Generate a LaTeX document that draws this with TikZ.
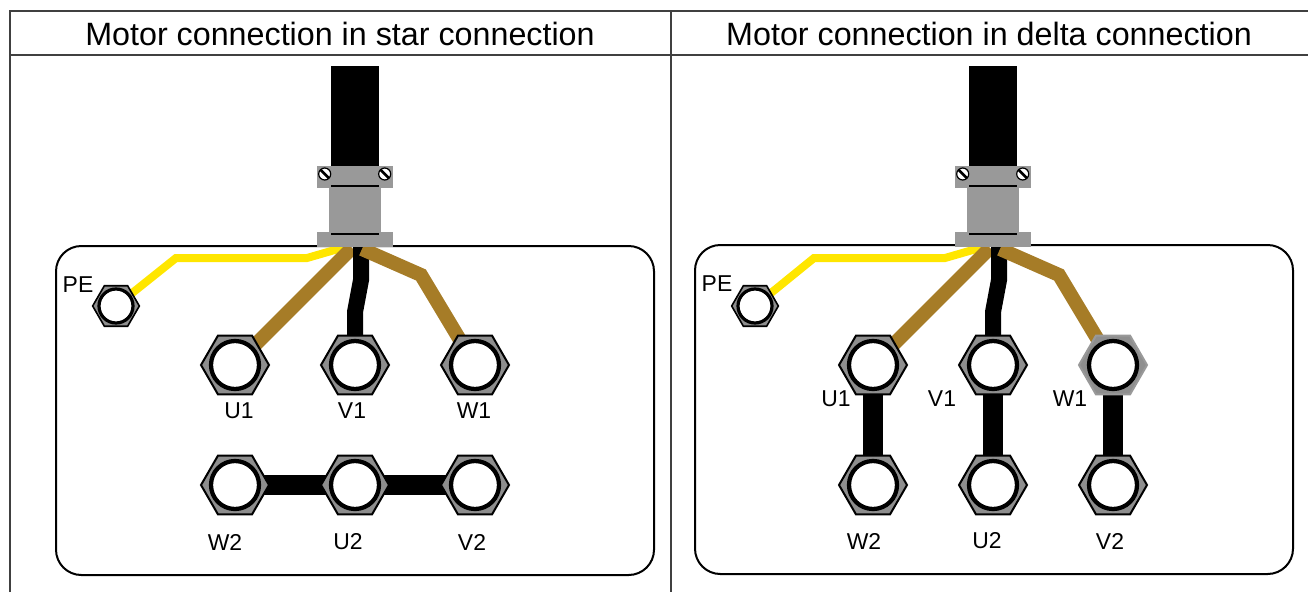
\documentclass[tikz,border=0pt]{standalone}
\usepackage{fontspec}
\setmainfont{Liberation Sans}
\usetikzlibrary{shapes.geometric,backgrounds}

\definecolor{wirebrown}{HTML}{A67C27}
\definecolor{wireyellow}{HTML}{FFE600}
\definecolor{glandgray}{HTML}{999999}
\definecolor{nutgray}{HTML}{8E8E8E}

\tikzset{
	title/.style={font=\fontsize{24.2}{28}\selectfont, inner sep=0pt},
	term/.style={font=\fontsize{17.2}{20}\selectfont, inner sep=0pt},
	nut/.style={regular polygon, regular polygon sides=6, draw=black, line width=1.5pt, fill=nutgray, minimum size=51pt, inner sep=0pt},
	smallnut/.style={nut, minimum size=35pt, line width=1.2pt},
	ring/.style={draw=black, fill=white, line width=3.2pt},
	smallring/.style={draw=black, fill=white, line width=2.4pt},
	brownwire/.style={draw=wirebrown, line width=10.5pt},
	blackwire/.style={draw=black, line width=12pt},
	yellowwire/.style={draw=wireyellow, line width=6pt},
	bridge/.style={draw=black, line width=15.5pt},
	box/.style={draw=black, line width=1.5pt, rounded corners=19pt},
	slot/.style={draw=black, line width=1pt},
	gridline/.style={draw=black!75, line width=1.1pt}
}

% one cable gland with its two screws, #1 = shift to the right
\newcommand{\gland}[1]{
	\begin{scope}[xshift=#1*0.75pt]
		\fill[black] (331,66) rectangle (379,170);
		\fill[glandgray] (329,186) rectangle (381,234);
		\fill[glandgray] (317,166) rectangle (393,188);
		\fill[glandgray] (317,232) rectangle (393,247);
		\draw[slot] (331,186) -- (379,186);
		\draw[slot] (331,234) -- (379,234);
		\draw[fill=white, line width=.9pt] (324.7,174) circle (6);
		\draw[fill=white, line width=.9pt] (384.7,174) circle (6);
		\draw[line width=2pt] (320.7,170) -- (328.7,178);
		\draw[line width=2pt] (380.7,170) -- (388.7,178);
	\end{scope}
}

\begin{document}
\begin{tikzpicture}[x=.75pt, y=-.75pt]
	\useasboundingbox (0,0) rectangle (1308,592);

	\draw[gridline] (10,592) -- (10,11) -- (1308,11);
	\draw[gridline] (10,55) -- (1308,55);
	\draw[gridline] (671,11) -- (671,592);

	\node[title] (starhead) at (340,34) {Motor connection in star connection};
	\node[title] (deltahead) at (989,34) {Motor connection in delta connection};

	% star side
	\node[smallnut] (PEa) at (116,306) {};
	\node[nut] (U1a) at (235,365) {};
	\node[nut] (V1a) at (355,365) {};
	\node[nut] (W1a) at (475,365) {};
	\node[nut] (W2a) at (235,485) {};
	\node[nut] (U2a) at (355,485) {};
	\node[nut] (V2a) at (475,485) {};

	% delta side
	\node[smallnut] (PEb) at (755,306) {};
	\node[nut] (U1b) at (873,365) {};
	\node[nut] (V1b) at (993,365) {};
	\node[nut, draw=glandgray] (W1b) at (1113,365) {};
	\node[nut] (W2b) at (873,485) {};
	\node[nut] (U2b) at (993,485) {};
	\node[nut] (V2b) at (1113,485) {};

	\foreach \n in {U1a,V1a,W1a,W2a,U2a,V2a,U1b,V1b,W1b,W2b,U2b,V2b}
		\draw[ring] (\n.center) circle (24);
	\draw[smallring] (PEa.center) circle (17);
	\draw[smallring] (PEb.center) circle (17);

	\coordinate (ya) at (345,247);
	\coordinate (ua) at (352,248);
	\coordinate (va) at (361,240);
	\coordinate (wa) at (362,249);
	\coordinate (yb) at (983,247);
	\coordinate (ub) at (990,248);
	\coordinate (vb) at (999,240);
	\coordinate (wb) at (1000,249);

	\begin{scope}[on background layer]
		\draw[box] (56,246) rectangle (654,575);
		\draw[box] (695,245) rectangle (1293,574);

		\draw[yellowwire] (PEa.center) -- (176,258) -- (307,258) -- (ya);
		\draw[brownwire] (U1a.center) -- (ua);
		\draw[blackwire] (va) -- (361,280) -- (355,312) -- (V1a.center);
		\draw[brownwire] (wa) -- (421,275) -- (W1a.center);
		\draw[bridge] (W2a.center) -- (U2a.center) -- (V2a.center);

		\draw[yellowwire] (PEb.center) -- (814,258) -- (945,258) -- (yb);
		\draw[brownwire] (U1b.center) -- (ub);
		\draw[blackwire] (vb) -- (999,280) -- (993,312) -- (V1b.center);
		\draw[brownwire] (wb) -- (1059,275) -- (W1b.center);
		\draw[bridge] (U1b.center) -- (W2b.center);
		\draw[bridge] (V1b.center) -- (U2b.center);
		\draw[bridge] (W1b.center) -- (V2b.center);
	\end{scope}

	\gland{0}
	\gland{638}

	\node[term] (PEal) at (78,285) {PE};
	\node[term] (U1al) at (239,411) {U1};
	\node[term] (V1al) at (352,411) {V1};
	\node[term] (W1al) at (474,411) {W1};
	\node[term] (W2al) at (225,542) {W2};
	\node[term] (U2al) at (348,542) {U2};
	\node[term] (V2al) at (472,542) {V2};

	\node[term] (PEbl) at (717,284) {PE};
	\node[term] (U1bl) at (836,399) {U1};
	\node[term] (V1bl) at (942,399) {V1};
	\node[term] (W1bl) at (1070,399) {W1};
	\node[term] (W2bl) at (864,541) {W2};
	\node[term] (U2bl) at (987,541) {U2};
	\node[term] (V2bl) at (1110,541) {V2};
\end{tikzpicture}
\end{document}
